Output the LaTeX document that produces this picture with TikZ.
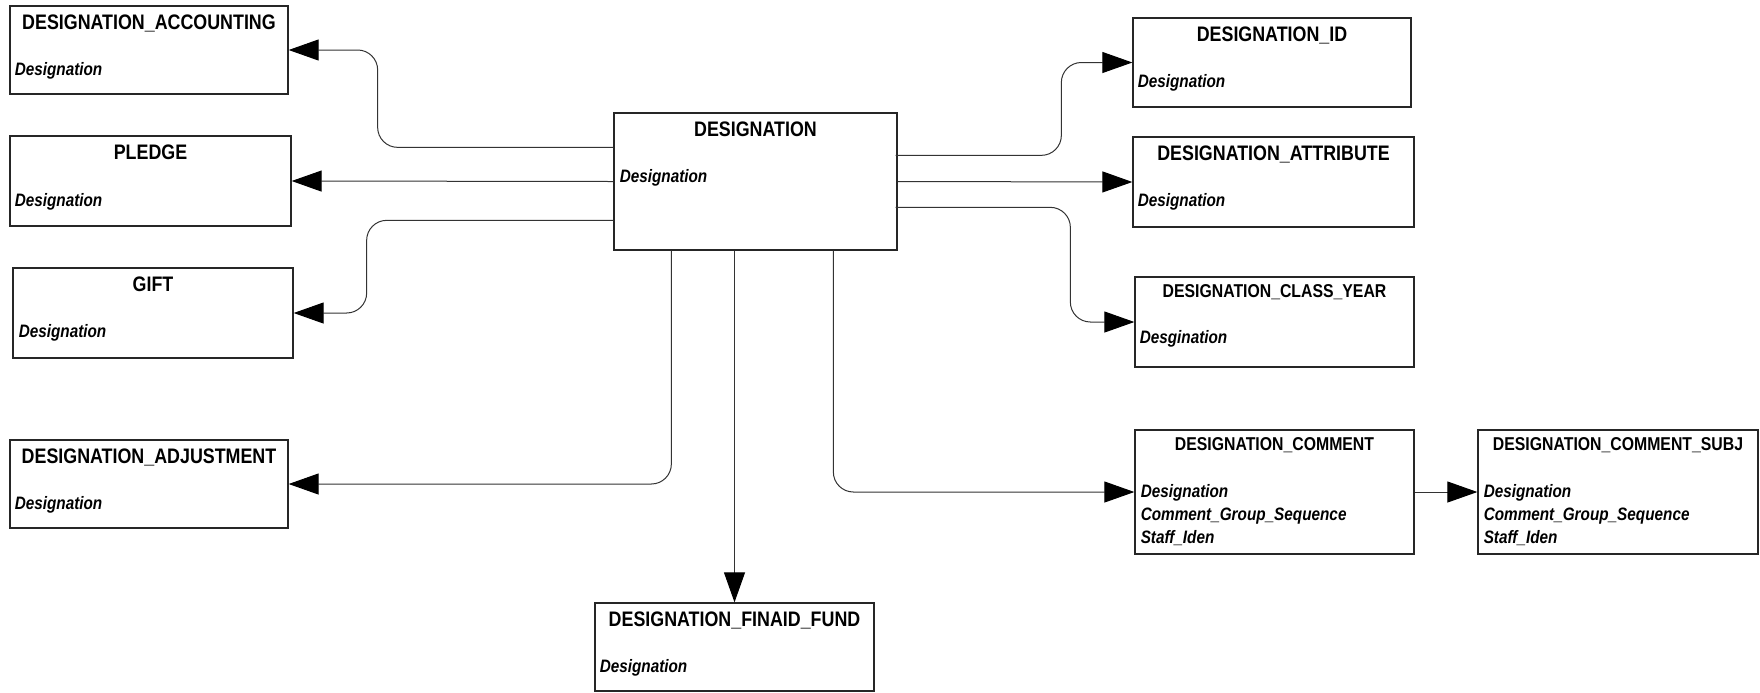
\documentclass[tikz,border=0pt]{standalone}
\usepackage{fontspec}
\setmainfont{Liberation Sans}[FakeStretch=0.85]
\usetikzlibrary{arrows.meta,calc,fit}
\tikzset{
  ebox/.style={draw=black!85, line width=0.65pt, inner sep=0pt},
  ttl/.style={font=\fontsize{10.5}{12}\selectfont\bfseries, inner sep=0pt, anchor=base},
  ttls/.style={font=\fontsize{9.3}{11}\selectfont\bfseries, inner sep=0pt, anchor=base},
  fld/.style={font=\fontsize{9}{11}\selectfont\bfseries\itshape, inner sep=0pt, anchor=base west},
  conn/.style={draw=black!80, line width=0.5pt, rounded corners=10pt,
    -{Triangle[length=15pt,width=10.5pt,black]}},
}
% entity box: name, corner, corner, title style, title baseline offset, title
\newcommand\entity[6]{%
  \node[ebox, fit={#2 #3}] (#1) {};
  \node[#4] (#1-t) at ($(#1.north)+(0,#5)$) {#6};
}
\begin{document}
\begin{tikzpicture}[x=0.5pt, y=-0.5pt]
\useasboundingbox (0,0) rectangle (1760,692);

% entities on the left
\entity{acc}{(10,6)}{(288,94)}{ttl}{24}{DESIGNATION\_ACCOUNTING}
\node[fld] (acc-f) at ($(acc.north west)+(5,70)$) {Designation};
\entity{pledge}{(10,136)}{(291,226)}{ttl}{24}{PLEDGE}
\node[fld] (pledge-f) at ($(pledge.north west)+(5,71)$) {Designation};
\entity{gift}{(13,268)}{(293,358)}{ttl}{24}{GIFT}
\node[fld] (gift-f) at ($(gift.north west)+(6,70)$) {Designation};
\entity{adj}{(10,440)}{(288,528)}{ttl}{24}{DESIGNATION\_ADJUSTMENT}
\node[fld] (adj-f) at ($(adj.north west)+(5,70)$) {Designation};

% central entity and the one below it
\entity{des}{(614,113)}{(897,250)}{ttl}{24}{DESIGNATION}
\node[fld] (des-f) at ($(des.north west)+(6,70)$) {Designation};
\entity{fin}{(595,603)}{(874,691)}{ttl}{24}{DESIGNATION\_FINAID\_FUND}
\node[fld] (fin-f) at ($(fin.north west)+(5,70)$) {Designation};

% entities on the right
\entity{id}{(1133,18)}{(1411,107)}{ttl}{24}{DESIGNATION\_ID}
\node[fld] (id-f) at ($(id.north west)+(5,70)$) {Designation};
\entity{attr}{(1133,137)}{(1414,227)}{ttl}{24}{DESIGNATION\_ATTRIBUTE}
\node[fld] (attr-f) at ($(attr.north west)+(5,70)$) {Designation};
\entity{cy}{(1135,277)}{(1414,367)}{ttls}{21}{DESIGNATION\_CLASS\_YEAR}
\node[fld] (cy-f) at ($(cy.north west)+(5,67)$) {Desgination};
\entity{com}{(1135,430)}{(1414,554)}{ttls}{21}{DESIGNATION\_COMMENT}
\node[fld] (com-f1) at ($(com.north west)+(6,68)$) {Designation};
\node[fld] (com-f2) at ($(com.north west)+(6,91)$) {Comment\_Group\_Sequence};
\node[fld] (com-f3) at ($(com.north west)+(6,114)$) {Staff\_Iden};
\entity{subj}{(1478,430)}{(1758,554)}{ttls}{21}{DESIGNATION\_COMMENT\_SUBJ}
\node[fld] (subj-f1) at ($(subj.north west)+(6,68)$) {Designation};
\node[fld] (subj-f2) at ($(subj.north west)+(6,91)$) {Comment\_Group\_Sequence};
\node[fld] (subj-f3) at ($(subj.north west)+(6,114)$) {Staff\_Iden};

% relationships
\draw[conn] ($(des.north west)+(0,35)$) -| ($(acc.east)+(89,0)$) -- (acc.east);
\draw[conn] (des.west) -- (pledge.east);
\draw[conn] ($(des.north west)+(0,108)$) -| ($(gift.east)+(73,0)$) -- (gift.east);
\draw[conn] ($(des.south west)+(58,0)$) |- (adj.east);
\draw[conn] (des.south -| fin.north) -- (fin.north);
\draw[conn] ($(des.south west)+(220,0)$) |- (com.west);
\draw[conn] ($(des.north east)+(-2,43)$) -| ($(id.west)+(-71,0)$) -- (id.west);
\draw[conn] (des.east) -- (attr.west);
\draw[conn] ($(des.north east)+(-2,95)$) -| ($(cy.west)+(-64,0)$) -- (cy.west);
\draw[conn] (com.east) -- (subj.west);
\end{tikzpicture}
\end{document}
